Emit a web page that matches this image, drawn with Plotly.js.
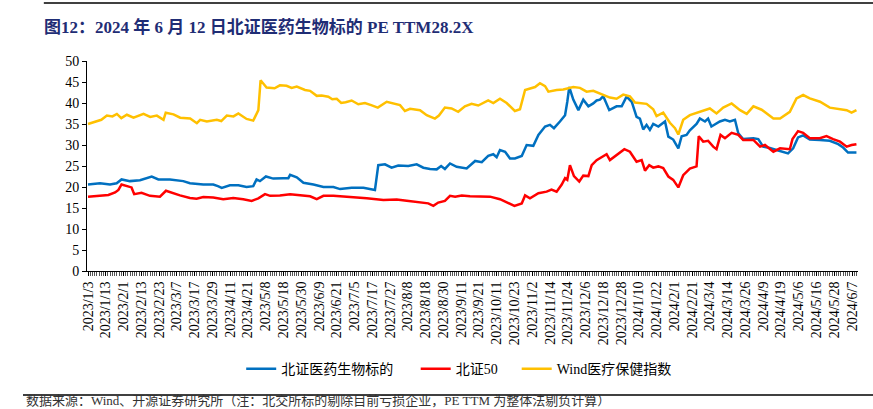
<!DOCTYPE html>
<html>
<head>
<meta charset="utf-8">
<script src="https://cdn.plot.ly/plotly-3.0.1.min.js"></script>
<style>html,body{margin:0;padding:0;background:#fff;}#chart{width:873px;height:409px;}</style>
</head>
<body>
<div id="chart"></div>
<script>
// Tick labels: one every 8 trading days, starting at trading-day index 0
var tickLabels = ["2023/1/3","2023/1/13","2023/2/1","2023/2/13","2023/2/23","2023/3/7","2023/3/17","2023/3/29","2023/4/11","2023/4/21","2023/5/8","2023/5/18","2023/5/30","2023/6/9","2023/6/21","2023/7/5","2023/7/17","2023/7/27","2023/8/8","2023/8/18","2023/8/30","2023/9/11","2023/9/21","2023/10/11","2023/10/23","2023/11/2","2023/11/14","2023/11/24","2023/12/6","2023/12/18","2023/12/28","2024/1/10","2024/1/22","2024/2/1","2024/2/21","2024/3/4","2024/3/14","2024/3/26","2024/4/9","2024/4/19","2024/5/6","2024/5/16","2024/5/28","2024/6/7"];
var labelStep = 8;

// 北证医药生物标的 (trading-day index, PE TTM)
var blueIdx = [0,5.4,9.9,12.9,15.1,18.9,23.4,28.7,31.7,36.9,42.9,45.9,51.9,56.4,58.5,60.2,63.9,67.7,71.4,74.4,75.9,77.4,80.1,83.4,87.9,90.2,91,94,97,101.5,106,110.5,113.5,118.7,124,129.2,130.7,133.7,136.7,139.7,144.2,148,151,154,157,159,160.7,163,166,170.5,174.3,177.3,180.2,182.5,184,185.5,187.8,190,192.2,195.3,197.5,200.5,202.8,205.8,208,209.8,212.5,214.8,215.8,216.7,218.5,220.8,223,225.3,227.5,229,230.5,232,234.7,238,240.3,242.5,244.8,247,248.5,250,251.5,253,254.5,256.8,259.8,261.3,263.5,265.8,267.3,269.5,271,274,275.5,277.8,279.2,280.7,284.5,286.8,289,291.3,292.8,295,299.6,301.8,304,307,310,313,315.2,317.5,319.7,322,325,329.5,334,337.8,340,342.2,346];
var blueVal = [20.6,20.9,20.6,20.9,21.8,21.4,21.6,22.5,21.8,21.8,21.4,20.9,20.6,20.6,20.2,19.8,20.4,20.4,20.0,20.2,21.8,21.4,22.5,22.0,22.1,22.1,22.9,22.3,21.0,20.6,20.0,20.0,19.5,19.8,19.8,19.3,25.2,25.4,24.6,25.1,25.0,25.4,24.6,24.3,24.2,25.0,24.3,25.6,24.8,24.4,26.2,25.9,27.4,27.8,27.1,28.8,28.4,26.8,26.8,27.4,30.0,29.8,32.4,34.4,34.8,34.0,35.6,37.1,40.3,43.8,40.8,38.3,40.8,39.2,39.9,40.6,40.8,41.6,38.3,39.2,39.2,41.5,40.3,36.7,36.3,33.7,34.8,33.6,35.0,34.4,35.6,32.0,31.3,29.2,32.1,32.4,33.5,35.0,36.3,35.6,36.3,34.4,35.6,36.0,35.6,36.0,32.8,31.4,31.6,31.4,29.6,29.3,28.8,28.4,28.0,29.2,31.8,32.3,31.3,31.2,31.0,30.2,29.4,28.2,28.2];

// 北证50
var redIdx = [0,5.4,9.2,12.2,13.7,15.1,17.4,19.6,20.8,24.1,27.9,32.4,35.1,37.7,41.4,45.9,48.9,51.9,56.4,60.9,65.4,69.9,73.7,76.7,79.7,82,86.4,91,95.5,100,103,106,110.5,113.5,118,125.5,133,139,143.5,148,153.2,155.5,157.7,160.7,163,165.3,168.3,172,176.5,181,185.5,190,192,195.3,196.8,199,202.8,206.5,208.7,211,213.3,214.8,215.8,217,218.8,221.2,223,225.3,226.8,229,231.3,233.5,235,238,241.5,244,247,249.3,250.8,252.7,254.5,256.8,259,261.3,263.5,265.8,268,271,274,275,277,279.2,281.5,283,284.8,286.8,289.8,292.8,295,299.6,302.6,304.8,308.6,311.6,314.6,316,317.2,319.7,322,325,329.5,332.5,335.5,338.6,341.6,343.8,346];
var redVal = [17.7,17.9,18.1,18.7,19.3,20.6,20.2,19.9,18.3,18.6,17.9,17.7,19.1,18.6,18.0,17.4,17.2,17.6,17.5,17.1,17.4,17.1,16.7,17.3,18.3,17.9,18.0,18.3,18.0,17.8,17.1,17.9,17.9,17.8,17.7,17.3,16.9,17.0,16.7,16.4,16.1,15.5,16.3,16.7,17.9,17.7,18.0,17.8,17.7,17.7,17.1,16.1,15.5,16.1,18.0,17.3,18.5,18.9,19.4,18.9,20.6,22.1,21.7,25.2,22.6,21.3,22.7,22.6,25.2,26.4,27.1,27.8,26.4,27.6,29.0,28.4,26.0,26.4,23.9,25.2,24.6,24.9,24.5,22.5,21.7,19.9,22.8,24.4,24.9,32.1,30.8,31.0,29.6,29.0,32.4,31.6,32.9,32.4,31.2,31.2,29.6,30.0,28.4,29.2,29.0,29.0,31.4,33.3,32.9,31.6,31.6,32.1,31.4,30.8,29.6,30.0,30.2];

// Wind医疗保健指数
var yelIdx = [0,3,6,8.5,11,13,15,17.5,20.5,25,28,31,34,35,38.5,41.5,46,49,50.5,53.5,58,60,62.5,65.5,67.7,71.4,74.4,76.7,77.7,80.4,84,86.4,89.4,91.7,94,97.7,100,103,105.2,108.2,110,112,114,116,118.7,121.7,124.7,127.5,130.5,134.5,137,140.5,142.7,145,149.5,152.5,156.2,158,160.7,163.7,166.7,169.7,172.7,175.7,180.2,182.5,185.5,188.5,192.2,194.5,196.8,199,201.3,203.5,205.8,207.3,211,214,218.5,221.5,224.5,227.5,230.5,235,238,241,244,246.3,251.5,254.5,256,259,262,264.3,265.8,268,271,275.5,277.8,280,283,286,289.8,293.6,296.6,299.6,303.3,308.6,311.6,316,319,322,325,329.6,334,338.6,341.6,343.8,346];
var yelVal = [35.0,35.5,36.0,37.0,36.8,37.4,36.4,37.2,36.5,37.4,36.7,37.0,36.0,37.7,37.3,36.5,36.3,35.2,36.0,35.6,36.0,35.7,37.0,36.8,37.5,36.2,35.8,38.3,45.4,43.7,43.5,44.2,44.1,43.6,43.9,43.1,42.9,41.7,41.8,41.5,40.9,41.0,40.0,40.2,40.6,39.7,40.0,39.5,38.9,40.3,40.0,39.5,38.1,38.6,38.3,37.1,36.3,37.0,38.9,38.7,37.9,39.2,39.8,39.4,40.6,40.0,41.0,40.0,38.1,38.5,43.1,43.5,43.8,44.7,44.0,42.7,43.1,43.2,43.8,43.6,42.7,42.9,42.2,41.3,41.0,42.0,41.6,40.1,39.8,38.5,36.9,37.7,35.3,34.0,32.5,36.0,37.1,37.9,38.3,38.7,37.5,38.9,39.9,38.3,37.4,39.2,38.4,36.3,36.3,37.9,41.1,41.9,41.1,40.3,38.9,38.5,38.3,37.7,38.3];

var tickVals = tickLabels.map(function(_, i){ return i * labelStep; });
var font = "'Liberation Serif', 'Times New Roman', 'Noto Sans CJK SC', serif";
var cjkFont = "'Liberation Serif', 'Noto Sans CJK SC', serif";

var traces = [
  {x: blueIdx, y: blueVal, name: "北证医药生物标的\u3000\u00a0", type: "scatter", mode: "lines", line: {color: "#0070C0", width: 2.5}},
  {x: redIdx, y: redVal, name: "北证50\u3000", type: "scatter", mode: "lines", line: {color: "#FF0000", width: 2.5}},
  {x: yelIdx, y: yelVal, name: "Wind医疗保健指数", type: "scatter", mode: "lines", line: {color: "#FFC000", width: 2.5}}
];

var layout = {
  width: 873, height: 409,
  margin: {l: 87, r: 15, t: 61, b: 138},
  paper_bgcolor: "#fff", plot_bgcolor: "#fff",
  showlegend: true,
  legend: {orientation: "h", x: 0.2, xanchor: "left", y: -0.467, yanchor: "middle",
           font: {family: cjkFont, size: 14, color: "#000"}, itemwidth: 30, traceorder: "normal"},
  xaxis: {
    range: [-0.45, 346.7], showgrid: false, zeroline: false,
    showline: true, linecolor: "#000", linewidth: 1,
    tickmode: "array", tickvals: tickVals, ticktext: tickLabels,
    tickangle: -90, ticks: "outside", ticklen: 4, tickcolor: "#000",
    tickfont: {family: font, size: 14, color: "#000"},
    minor: {tickmode: "linear", tick0: 0, dtick: 1, ticks: "outside", ticklen: 4, tickcolor: "#555", tickwidth: 1, showgrid: false}
  },
  yaxis: {
    range: [0, 50], dtick: 5, tick0: 0, showgrid: false, zeroline: false,
    showline: true, linecolor: "#000", linewidth: 1,
    ticks: "outside", ticklen: 4, tickcolor: "#000",
    tickfont: {family: font, size: 14, color: "#000"}
  },
  shapes: [
    {type: "line", xref: "paper", yref: "paper", x0: -0.056, x1: 1.02, y0: 1.276, y1: 1.276, line: {color: "#000", width: 1.5}},
    {type: "line", xref: "paper", yref: "paper", x0: -0.083, x1: 1.02, y0: -0.59, y1: -0.59, line: {color: "#000", width: 1.5}}
  ],
  annotations: [
    {xref: "paper", yref: "paper", x: -0.059, y: 1.162, xanchor: "left", yanchor: "middle", showarrow: false,
     text: "<b>图12：2024 年 6 月 12 日北证医药生物标的 PE TTM28.2X</b>",
     font: {family: cjkFont, size: 17, color: "#1f2d75"}},
    {xref: "paper", yref: "paper", x: -0.081, y: -0.655, xanchor: "left", yanchor: "bottom", showarrow: false,
     borderpad: 0,
     text: "数据来源：Wind、开源证券研究所（注：北交所标的剔除目前亏损企业，PE TTM 为整体法剔负计算）",
     font: {family: cjkFont, size: 13, color: "#333"}}
  ]
};

Plotly.newPlot("chart", traces, layout, {displayModeBar: false, staticPlot: true});
</script>
</body>
</html>
